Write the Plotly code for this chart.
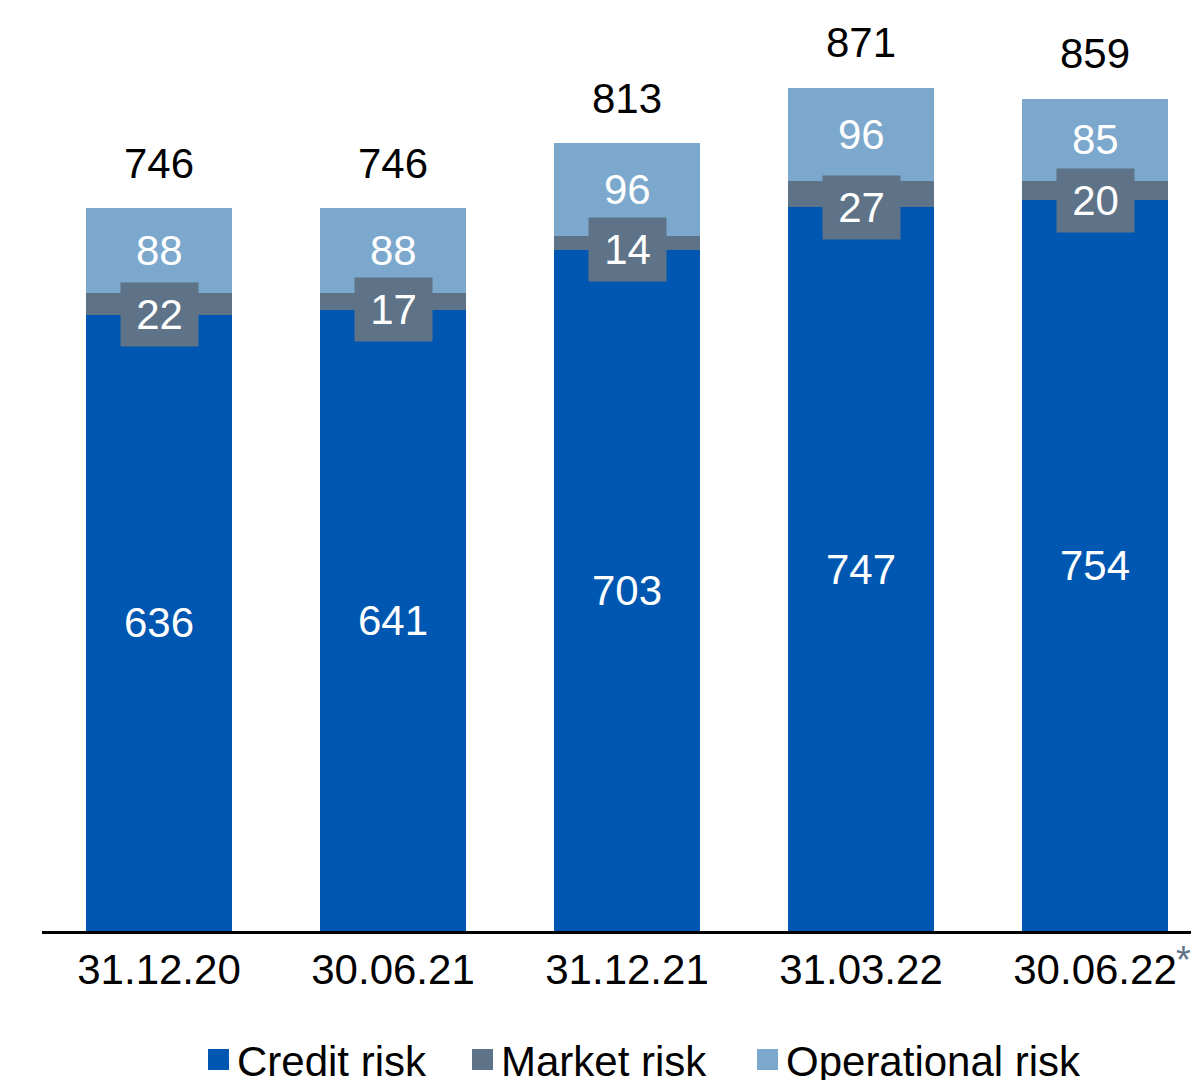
import plotly.graph_objects as go

# data
dates = ["31.12.20", "30.06.21", "31.12.21", "31.03.22", "30.06.22"]
credit_risk = [636, 641, 703, 747, 754]
market_risk = [22, 17, 14, 27, 20]
operational_risk = [88, 88, 96, 96, 85]
totals = [746, 746, 813, 871, 859]
series_names = ["Credit risk", "Market risk", "Operational risk"]

C_CREDIT = "#0057B2"
C_MARKET = "#5E7387"
C_OPER = "#7BA8CC"
FONT = "Arial, Liberation Sans, sans-serif"

# page body has an 8px margin, so the figure sits at (8, 8) in the window
OFF = 8
W, H = 1199 - OFF, 1080 - OFF
ML = 42 - OFF
plot_w = W - ML
plot_h = 931 - OFF
MB = H - plot_h


def px_x(px):
    # window pixel -> paper x
    return (px - OFF - ML) / plot_w


def px_y(py):
    # window pixel -> paper y
    return (plot_h - (py - OFF)) / plot_h


fig = go.Figure()
for name, vals, col in zip(series_names, [credit_risk, market_risk, operational_risk],
                           [C_CREDIT, C_MARKET, C_OPER]):
    fig.add_trace(go.Bar(x=list(range(len(dates))), y=vals, name=name,
                         marker=dict(color=col, line=dict(width=0)),
                         width=0.624, showlegend=False, hoverinfo="skip"))

LBL = 42
annotations = []
for i in range(len(dates)):
    # credit label, centred in segment
    annotations.append(dict(x=i, y=credit_risk[i] / 2, text=str(credit_risk[i]),
                            showarrow=False, font=dict(size=LBL, color="white", family=FONT)))
    # operational label
    base = credit_risk[i] + market_risk[i]
    annotations.append(dict(x=i, y=base + operational_risk[i] / 2, text=str(operational_risk[i]),
                            showarrow=False, font=dict(size=LBL, color="white", family=FONT)))
    # market label in a box
    annotations.append(dict(x=i, y=credit_risk[i], text=str(market_risk[i]),
                            showarrow=False, bgcolor=C_MARKET, width=77, height=63,
                            borderpad=0, font=dict(size=LBL, color="white", family=FONT)))
    # total above bar
    annotations.append(dict(x=i, y=totals[i], text=str(totals[i]), yshift=45,
                            showarrow=False, font=dict(size=LBL, color="black", family=FONT)))

# asterisk after last date (kept inside the visible right edge)
annotations.append(dict(x=len(dates) - 1, y=px_y(938), yref="paper", xshift=80,
                        xanchor="left", yanchor="top", text="*", borderpad=0,
                        showarrow=False, font=dict(size=38, color=C_MARKET, family=FONT)))

# manual legend with bigger squares
shapes = []
leg_sq_x = [208, 472, 757]
for name, col, sx in zip(series_names, [C_CREDIT, C_MARKET, C_OPER], leg_sq_x):
    shapes.append(dict(type="rect", xref="paper", yref="paper",
                       x0=px_x(sx), x1=px_x(sx + 21), y0=px_y(1070), y1=px_y(1049),
                       fillcolor=col, line=dict(width=0)))
    annotations.append(dict(xref="paper", yref="paper", x=px_x(sx + 27), y=px_y(1061),
                            xanchor="left", yanchor="middle", text=name, showarrow=False,
                            font=dict(size=42, color="black", family=FONT)))

fig.update_layout(
    barmode="stack",
    width=W, height=H,
    margin=dict(l=ML, r=0, t=0, b=MB),
    plot_bgcolor="white", paper_bgcolor="white",
    annotations=annotations, shapes=shapes,
    xaxis=dict(range=[-0.5, -0.5 + plot_w / 234], tickmode="array",
               tickvals=list(range(len(dates))), ticktext=dates,
               showline=True, linecolor="black", linewidth=3, showgrid=False,
               zeroline=False, tickfont=dict(size=42, color="black", family=FONT),
               ticks="", ticklabelstandoff=0),
    yaxis=dict(range=[0, plot_h / 0.969], visible=False, showgrid=False, zeroline=False),
)

fig.write_html("out.html")
